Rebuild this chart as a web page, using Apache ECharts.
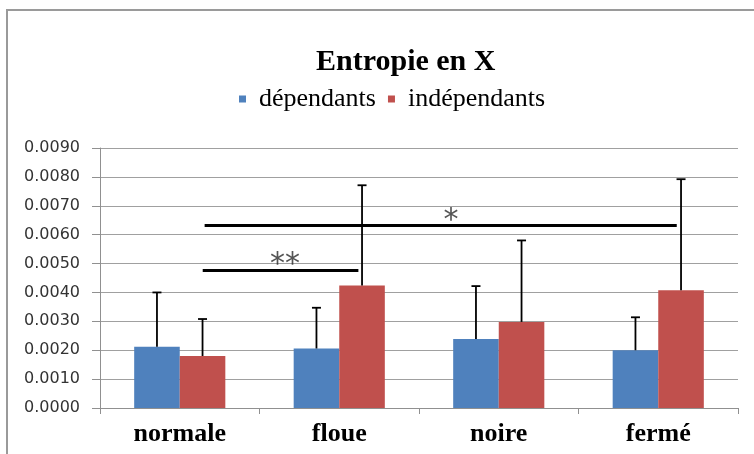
<!DOCTYPE html>
<html>
<head>
<meta charset="utf-8">
<script src="https://cdn.jsdelivr.net/npm/echarts@6/dist/echarts.min.js"></script>
<style>
  html, body { margin: 0; padding: 0; background: #ffffff; }
  #chart { width: 754px; height: 454px; }
</style>
</head>
<body>
<div id="chart"></div>
<script>
// Conditions on the x axis
var categories = ['normale', 'floue', 'noire', 'fermé'];
var seriesNames = ['dépendants', 'indépendants'];

// Mean entropy per condition
var dependants = [0.00212, 0.00206, 0.00239, 0.00200];
var independants = [0.00180, 0.00424, 0.00298, 0.00408];

// Upper error (standard deviation) added on top of each bar
var dependantsErr = [0.00188, 0.00141, 0.00183, 0.00114];
var independantsErr = [0.00128, 0.00347, 0.00282, 0.00384];

// Y axis ticks
var yTicks = [0, 0.001, 0.002, 0.003, 0.004, 0.005, 0.006, 0.007, 0.008, 0.009];

// Significance brackets: start / end position along the categories, height, marker
var sigStart = [0.644, 0.656];
var sigEnd = [1.62, 3.616];
var sigLevel = [0.00476, 0.00632];
var sigText = ['**', '*'];
var sigTextX = [1.16, 2.2];
var sigTextY = [0.00496, 0.00648];

var blue = '#4F81BD';
var red = '#C0504D';

var chart = echarts.init(document.getElementById('chart'), null, { renderer: 'canvas' });

function errorSeries(name, means, errs, side) {
  return {
    type: 'custom',
    name: name + ' err',
    xAxisIndex: 0,
    yAxisIndex: 0,
    z: 5,
    silent: true,
    data: means.map(function (m, i) { return [i, m, m + errs[i]]; }),
    renderItem: function (params, api) {
      var band = api.size([1, 0])[0];
      var barW = band / 3.5;
      var base = api.coord([api.value(0), api.value(1)]);
      var top = api.coord([api.value(0), api.value(2)]);
      var x = base[0] + side * barW / 2;
      var cap = 4.5;
      var style = { stroke: '#000000', lineWidth: 1.8 };
      return {
        type: 'group',
        children: [
          { type: 'line', shape: { x1: x, y1: base[1], x2: x, y2: top[1] }, style: style },
          { type: 'line', shape: { x1: x - cap, y1: top[1], x2: x + cap, y2: top[1] }, style: style }
        ]
      };
    }
  };
}

var sigSeries = sigLevel.map(function (y, i) {
  return {
    type: 'line',
    name: 'sig' + i,
    xAxisIndex: 1,
    yAxisIndex: 0,
    z: 4,
    silent: true,
    symbol: 'none',
    lineStyle: { color: '#000000', width: 3 },
    data: [[sigStart[i], y], [sigEnd[i], y]]
  };
});

var sigLabels = {
  type: 'scatter',
  name: 'sigText',
  xAxisIndex: 1,
  yAxisIndex: 0,
  silent: true,
  symbolSize: 0,
  z: 6,
  data: sigText.map(function (t, i) { return { value: [sigTextX[i], sigTextY[i]], name: t }; }),
  label: {
    show: true,
    position: 'inside',
    formatter: function (p) { return p.name; },
    fontFamily: 'DejaVu Sans',
    fontSize: 30,
    color: '#2a2a2a'
  }
};

var option = {
  backgroundColor: '#ffffff',
  animation: false,
  title: {
    text: 'Entropie en X',
    left: 311,
    top: 42,
    textStyle: {
      fontFamily: 'Liberation Serif',
      fontWeight: 'bold',
      fontSize: 30,
      color: '#000000'
    }
  },
  legend: {
    data: seriesNames,
    left: 234,
    top: 81,
    itemWidth: 7,
    itemHeight: 7,
    itemGap: 12,
    icon: 'rect',
    textStyle: {
      fontFamily: 'Liberation Serif',
      fontSize: 26,
      color: '#000000',
      padding: [0, 0, 0, 8]
    }
  },
  graphic: [{
    type: 'rect',
    silent: true,
    z: -1,
    shape: { x: 7, y: 10, width: 800, height: 500 },
    style: { fill: 'none', stroke: '#9a9a9a', lineWidth: 2 }
  }],
  grid: { left: 100, right: 16, top: 148, bottom: 46, containLabel: false },
  xAxis: [{
    type: 'category',
    data: categories,
    axisLine: { lineStyle: { color: '#909090', width: 1 } },
    axisTick: { show: true, length: 6, lineStyle: { color: '#909090' } },
    axisLabel: {
      margin: 13,
      fontFamily: 'Liberation Serif',
      fontWeight: 'bold',
      fontSize: 26,
      color: '#000000'
    }
  }, {
    type: 'value',
    min: 0,
    max: 4,
    show: false
  }],
  yAxis: {
    type: 'value',
    min: yTicks[0],
    max: yTicks[yTicks.length - 1],
    interval: yTicks[1] - yTicks[0],
    axisLine: { show: true, lineStyle: { color: '#909090', width: 1 } },
    axisTick: { show: true, length: 8, lineStyle: { color: '#909090' } },
    splitLine: { lineStyle: { color: '#a0a0a0', width: 1.2 } },
    axisLabel: {
      margin: 20,
      fontFamily: 'DejaVu Sans',
      fontSize: 16,
      color: '#333333',
      formatter: function (v) { return v.toFixed(4); }
    }
  },
  series: [{
    type: 'bar',
    name: seriesNames[0],
    data: dependants,
    itemStyle: { color: blue },
    barGap: '0%',
    barCategoryGap: '42.857%'
  }, {
    type: 'bar',
    name: seriesNames[1],
    data: independants,
    itemStyle: { color: red },
    barGap: '0%',
    barCategoryGap: '42.857%'
  },
  errorSeries(seriesNames[0], dependants, dependantsErr, -1),
  errorSeries(seriesNames[1], independants, independantsErr, 1)
  ].concat(sigSeries).concat([sigLabels])
};

chart.setOption(option);
</script>
</body>
</html>
